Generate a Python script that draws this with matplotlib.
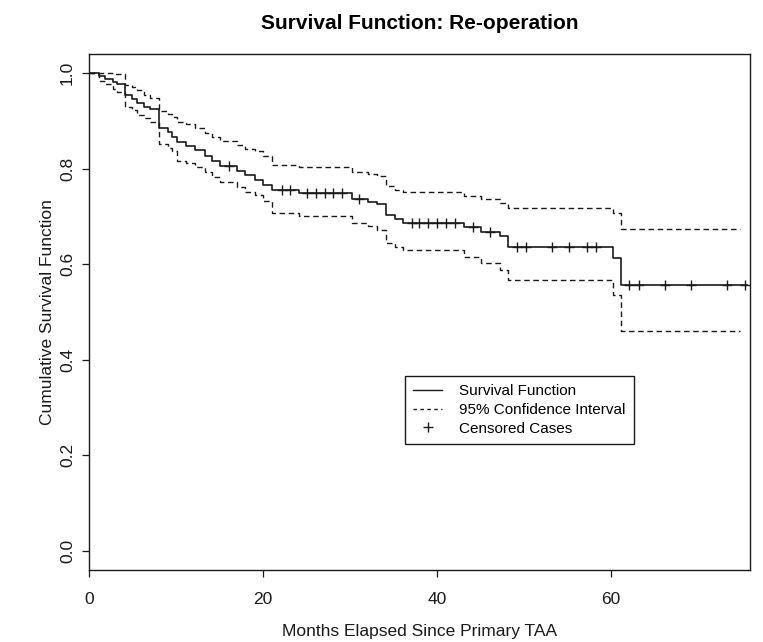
import numpy as np
import matplotlib
matplotlib.use("Agg")
import matplotlib.pyplot as plt
from matplotlib.lines import Line2D

plt.rcParams["font.family"] = ["Liberation Sans", "DejaVu Sans"]

# event times (months) and Kaplan-Meier estimates
event_times = [1.1, 1.8, 2.8, 3.2, 4.1, 4.9, 5.5, 6.3, 7.0, 8.0, 9.1, 9.6,
               10.1, 11.2, 12.2, 13.3, 14.2, 15.1, 17.0, 17.9, 19.1, 20.0,
               21.0, 24.2, 30.2, 32.1, 33.1, 34.2, 35.2, 36.1, 43.1, 45.1,
               47.2, 48.2, 60.2, 61.2]
survival = [0.993, 0.988, 0.982, 0.978, 0.954, 0.945, 0.938, 0.930, 0.924,
            0.884, 0.877, 0.867, 0.855, 0.847, 0.840, 0.827, 0.817, 0.806,
            0.795, 0.786, 0.777, 0.766, 0.756, 0.750, 0.737, 0.731, 0.725,
            0.702, 0.695, 0.687, 0.677, 0.668, 0.658, 0.637, 0.613, 0.556]
upper_ci = [1.0, 1.0, 0.998, 0.997, 0.976, 0.970, 0.965, 0.955, 0.947,
            0.921, 0.915, 0.907, 0.897, 0.893, 0.885, 0.874, 0.866, 0.857,
            0.849, 0.842, 0.836, 0.826, 0.808, 0.803, 0.793, 0.788, 0.784,
            0.763, 0.756, 0.751, 0.742, 0.737, 0.728, 0.717, 0.707, 0.674]
lower_ci = [0.984, 0.977, 0.966, 0.960, 0.930, 0.922, 0.913, 0.905, 0.898,
            0.851, 0.843, 0.836, 0.816, 0.812, 0.803, 0.793, 0.782, 0.772,
            0.762, 0.752, 0.745, 0.733, 0.707, 0.700, 0.686, 0.679, 0.671,
            0.645, 0.636, 0.629, 0.615, 0.602, 0.588, 0.567, 0.536, 0.460]
censored_times = [16.1, 22.2, 23.1, 25.1, 26.1, 27.1, 28.1, 29.1, 31.1,
                  37.1, 38.0, 39.0, 40.0, 41.1, 42.1, 44.1, 46.1, 49.2,
                  50.2, 53.2, 55.2, 57.3, 58.3, 62.1, 63.2, 66.2, 69.2,
                  73.4, 75.4]
last_time = 75.7
ci_last_time = 74.8

x_ticks = [0, 20, 40, 60]
y_ticks = [0.0, 0.2, 0.4, 0.6, 0.8, 1.0]


def step_value(t, times, values):
    idx = np.searchsorted(times, t, side="right") - 1
    return 1.0 if idx < 0 else values[idx]


def main() -> None:
    fig = plt.figure(figsize=(7.63, 6.42), dpi=100)
    ax = fig.add_axes([0.1166, 0.112, 0.8664, 0.804])
    ink = "#1a1a1a"

    t_s = [0.0] + event_times + [last_time]
    s_s = [1.0] + survival + [survival[-1]]
    ax.step(t_s, s_s, where="post", color=ink, lw=1.2)

    t_c = [0.0] + event_times + [ci_last_time]
    for band in (upper_ci, lower_ci):
        b = [1.0] + band + [band[-1]]
        ax.step(t_c, b, where="post", color=ink, lw=1.0,
                linestyle=(0, (4, 2.6)))

    cens_y = [step_value(t, event_times, survival) for t in censored_times]
    ax.plot(censored_times, cens_y, linestyle="none", marker="+",
            markersize=6.5, markeredgewidth=1.0, color=ink)

    ax.set_xlim(0, 76)
    ax.set_ylim(-0.04, 1.04)
    ax.set_xticks(x_ticks)
    ax.set_yticks(y_ticks)
    ax.set_yticklabels([f"{v:.1f}" for v in y_ticks], rotation=90,
                       va="center")
    ax.tick_params(direction="out", length=5, width=0.9, labelsize=12.5,
                   colors=ink)
    ax.tick_params(axis="x", pad=11)
    ax.tick_params(axis="y", pad=5)
    for sp in ax.spines.values():
        sp.set_linewidth(1.0)
        sp.set_color(ink)

    ax.set_xlabel("Months Elapsed Since Primary TAA", fontsize=12.5,
                  labelpad=12, color=ink)
    ax.set_ylabel("Cumulative Survival Function", fontsize=12.5,
                  labelpad=4, color=ink)
    ax.set_title("Survival Function: Re-operation", fontsize=15,
                 fontweight="bold", pad=18)

    handles = [
        Line2D([], [], color=ink, lw=1.0),
        Line2D([], [], color=ink, lw=1.0, linestyle=(0, (2.5, 2.5))),
        Line2D([], [], color=ink, linestyle="none", marker="+",
               markersize=6.5, markeredgewidth=1.0),
    ]
    labels = ["Survival Function", "95% Confidence Interval",
              "Censored Cases"]
    leg = ax.legend(handles, labels, loc="upper left",
                    bbox_to_anchor=(0.478, 0.376), fontsize=11,
                    frameon=True, fancybox=False, edgecolor=ink,
                    framealpha=1, borderaxespad=0, handlelength=1.9,
                    handletextpad=1.1, labelspacing=0.3, borderpad=0.55)
    leg.get_frame().set_linewidth(1.0)

    fig.savefig("out.png", dpi=100)


if __name__ == "__main__":
    main()
